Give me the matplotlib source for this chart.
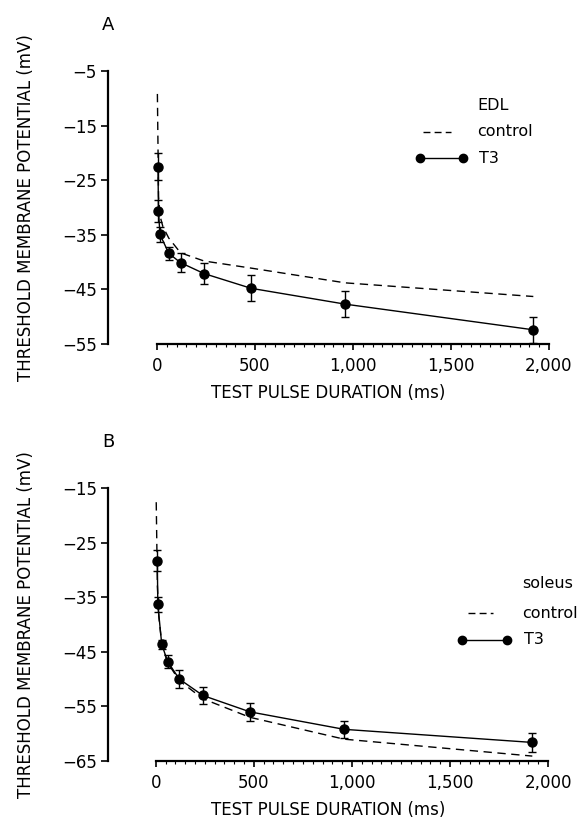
import matplotlib
matplotlib.use("Agg")
import matplotlib.pyplot as plt
from matplotlib.ticker import FixedLocator, StrMethodFormatter

## data
dur_t3_a = [5, 7.5, 15, 60, 120, 240, 480, 960, 1920]
t3_a = [-22.5, -30.6, -34.9, -38.4, -40.1, -42.1, -44.8, -47.7, -52.4]
err_a = [2.4, 2.0, 1.4, 1.2, 1.7, 2.0, 2.4, 2.4, 2.4]
dur_ctl_a = [2, 8, 15, 30, 60, 120, 240, 480, 960, 1920]
ctl_a = [-9.2, -28.0, -31.5, -33.5, -35.6, -38.3, -39.8, -41.1, -43.8, -46.3]

dur_t3_b = [7.5, 10, 30, 60, 120, 240, 480, 960, 1920]
t3_b = [-28.3, -36.3, -43.6, -46.8, -50.0, -53.0, -56.0, -59.2, -61.6]
err_b = [1.9, 1.4, 0.8, 1.2, 1.6, 1.6, 1.6, 1.6, 1.8]
dur_ctl_b = [2, 8, 15, 30, 60, 120, 240, 480, 960, 1920]
ctl_b = [-17.6, -33.0, -38.5, -43.5, -47.0, -50.3, -53.6, -57.0, -61.0, -64.1]

yticks_a = [-5, -15, -25, -35, -45, -55]
yticks_b = [-15, -25, -35, -45, -55, -65]
xticks = [0, 500, 1000, 1500, 2000]
xminor = list(range(0, 2001, 50))

FS = 12
plt.rcParams['font.family'] = 'DejaVu Sans'

fig = plt.figure(figsize=(5.81, 8.21), dpi=100)
W, H = 581, 821


def px_axes(left, right, top, bottom):
    return [left / W, 1 - bottom / H, (right - left) / W, (bottom - top) / H]


def panel(rect, xlo, dur_t3, t3, err, dur_ctl, ctl, yticks, letter, muscle, leg):
    ax = fig.add_axes(rect)
    ax.plot(dur_ctl, ctl, color='black', lw=1.0, dashes=(6, 4), clip_on=False)
    ax.errorbar(dur_t3, t3, yerr=err, color='black', lw=1.0, marker='o', ms=6.5,
                capsize=3, elinewidth=1.0, capthick=1.0, clip_on=False)
    ax.set_xlim(xlo, 2000)
    ax.set_ylim(yticks[-1], yticks[0])
    for s in ['top', 'right']:
        ax.spines[s].set_visible(False)
    ax.spines['left'].set_linewidth(1.6)
    ax.spines['bottom'].set_linewidth(1.6)
    ax.spines['bottom'].set_bounds(0, 2000)
    ax.set_yticks(yticks)
    ax.set_xticks(xticks)
    ax.xaxis.set_minor_locator(FixedLocator(xminor))
    ax.xaxis.set_major_formatter(StrMethodFormatter('{x:,.0f}'))
    ax.tick_params(axis='y', direction='out', length=5, width=1.2, labelsize=FS, pad=3)
    ax.tick_params(axis='x', which='major', direction='out', length=4, width=1.2,
                   labelsize=FS, pad=5)
    ax.tick_params(axis='x', which='minor', direction='out', length=2, width=0.8)
    ax.set_ylabel('THRESHOLD MEMBRANE POTENTIAL (mV)', fontsize=FS, labelpad=19)
    ax.set_xlabel('TEST PULSE DURATION (ms)', fontsize=FS, labelpad=7)
    ax.text(0.0, 1.15, letter, transform=ax.transAxes, fontsize=FS + 1, ha='center')

    # legend drawn by hand
    tx, ty, dx0, dx1, dy, cx0, cx1, cy = leg
    ax.text(tx, ty, muscle, transform=ax.transAxes, fontsize=FS - 0.5, va='center')
    ax.plot([dx0, dx1], [dy, dy], transform=ax.transAxes, color='black', lw=1.0,
            dashes=(5, 3), clip_on=False)
    ax.text(tx, dy, 'control', transform=ax.transAxes, fontsize=FS - 0.5, va='center')
    ax.plot([cx0, cx1], [cy, cy], transform=ax.transAxes, color='black', lw=1.0,
            marker='o', ms=6, clip_on=False)
    ax.text(tx + 0.004, cy, 'T3', transform=ax.transAxes, fontsize=FS - 0.5, va='center')
    return ax


ax_a = panel(px_axes(108, 549, 71, 344), -250, dur_t3_a, t3_a, err_a, dur_ctl_a, ctl_a,
             yticks_a, 'A', 'EDL',
             (0.837, 0.872, 0.714, 0.778, 0.777, 0.707, 0.805, 0.681))
ax_b = panel(px_axes(108, 548, 488, 761), -244, dur_t3_b, t3_b, err_b, dur_ctl_b, ctl_b,
             yticks_b, 'B', 'soleus',
             (0.941, 0.652, 0.818, 0.875, 0.542, 0.805, 0.907, 0.444))

fig.savefig('out.png', dpi=100)
